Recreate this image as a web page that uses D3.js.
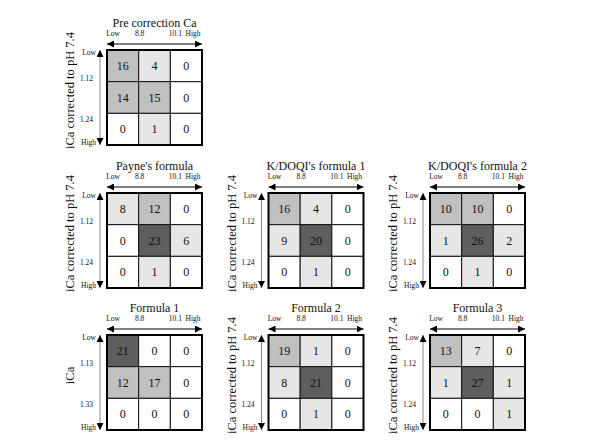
<!DOCTYPE html>
<html>
<head>
<meta charset="utf-8">
<script src="https://cdn.jsdelivr.net/npm/d3@7"></script>
<style>
  body { margin: 0; background: #fff; }
</style>
</head>
<body>
<div id="chart"></div>
<script>
// Panel titles and counts (rows = iCa Low..High, cols = Ca Low..High)
const titles = ["Pre correction Ca", "Payne's formula", "K/DOQI's formula 1",
                "K/DOQI's formula 2", "Formula 1", "Formula 2", "Formula 3"];
const preCorrection = [[16, 4, 0], [14, 15, 0], [0, 1, 0]];
const payne        = [[8, 12, 0], [0, 23, 6], [0, 1, 0]];
const kdoqi1       = [[16, 4, 0], [9, 20, 0], [0, 1, 0]];
const kdoqi2       = [[10, 10, 0], [1, 26, 2], [0, 1, 0]];
const formula1     = [[21, 0, 0], [12, 17, 0], [0, 0, 0]];
const formula2     = [[19, 1, 0], [8, 21, 0], [0, 1, 0]];
const formula3     = [[13, 7, 0], [1, 27, 1], [0, 0, 1]];
const xTickLabels = ["Low", "8.8", "10.1", "High"];
const yTickLabels = ["Low", "1.12", "1.24", "High"];
const yTickLabelsF1 = ["Low", "1.13", "1.33", "High"];
const yTitle = "iCa corrected to pH 7.4";
const yTitleF1 = "iCa";

const panels = [
  { title: titles[0], values: preCorrection, yTicks: yTickLabels, yLabel: yTitle, col: 0, row: 0 },
  { title: titles[1], values: payne, yTicks: yTickLabels, yLabel: yTitle, col: 0, row: 1 },
  { title: titles[2], values: kdoqi1, yTicks: yTickLabels, yLabel: yTitle, col: 1, row: 1 },
  { title: titles[3], values: kdoqi2, yTicks: yTickLabels, yLabel: yTitle, col: 2, row: 1 },
  { title: titles[4], values: formula1, yTicks: yTickLabelsF1, yLabel: yTitleF1, col: 0, row: 2 },
  { title: titles[5], values: formula2, yTicks: yTickLabels, yLabel: yTitle, col: 1, row: 2 },
  { title: titles[6], values: formula3, yTicks: yTickLabels, yLabel: yTitle, col: 2, row: 2 }
];

const width = 595, height = 444;
const gs = 95; // grid size
const colX = [107, 268.5, 430];
const rowY = [50, 193, 335];
const serif = "'Liberation Serif', 'DejaVu Serif', 'Times New Roman', serif";

const svg = d3.select("#chart").append("svg")
  .attr("width", width)
  .attr("height", height)
  .attr("font-family", serif);

const defs = svg.append("defs");
defs.append("marker")
  .attr("id", "arrow")
  .attr("viewBox", "0 0 10 10")
  .attr("refX", 10).attr("refY", 5)
  .attr("markerWidth", 7).attr("markerHeight", 7)
  .attr("markerUnits", "userSpaceOnUse")
  .attr("orient", "auto-start-reverse")
  .append("path")
  .attr("d", "M0,0 L10,5 L0,10 Z")
  .attr("fill", "#000");

// shade by count
const color = d3.scaleThreshold()
  .domain([1, 10, 20])
  .range(["#ffffff", "#e6e6e6", "#c0c0c0", "#5e5e5e"]);

const x = d3.scaleBand().domain([0, 1, 2]).range([0, gs]);
const y = d3.scaleBand().domain([0, 1, 2]).range([0, gs]);
const xEdge = d3.scaleLinear().domain([0, 3]).range([0, gs]);
const yEdge = d3.scaleLinear().domain([0, 3]).range([0, gs]);

panels.forEach(p => {
  const g = svg.append("g")
    .attr("transform", `translate(${colX[p.col]},${rowY[p.row]})`);

  const cells = p.values.flatMap((r, ri) => r.map((v, ci) => ({ r: ri, c: ci, v })));

  g.selectAll("rect.cell")
    .data(cells)
    .join("rect")
    .attr("class", "cell")
    .attr("x", d => x(d.c))
    .attr("y", d => y(d.r))
    .attr("width", x.bandwidth())
    .attr("height", y.bandwidth())
    .attr("fill", d => color(d.v))
    .attr("stroke", "#111")
    .attr("stroke-width", 1);

  g.selectAll("text.val")
    .data(cells)
    .join("text")
    .attr("class", "val")
    .attr("x", d => x(d.c) + x.bandwidth() / 2)
    .attr("y", d => y(d.r) + y.bandwidth() / 2)
    .attr("dy", "0.35em")
    .attr("text-anchor", "middle")
    .attr("font-family", serif)
    .style("font-size", "12px")
    .attr("fill", "#111")
    .text(d => d.v);

  // outer border
  g.append("rect")
    .attr("width", gs).attr("height", gs)
    .attr("fill", "none")
    .attr("stroke", "#000")
    .attr("stroke-width", 2);

  // title
  g.append("text")
    .attr("x", gs / 2)
    .attr("y", -23)
    .attr("text-anchor", "middle")
    .attr("font-family", serif)
    .style("font-size", "12px")
    .attr("fill", "#111")
    .text(p.title);

  // horizontal arrow
  g.append("line")
    .attr("x1", 0).attr("x2", gs)
    .attr("y1", -6).attr("y2", -6)
    .attr("stroke", "#000")
    .attr("stroke-width", 1)
    .attr("marker-start", "url(#arrow)")
    .attr("marker-end", "url(#arrow)");

  // x tick labels
  const xOff = [6, 1, 5, -9];
  g.selectAll("text.xt")
    .data(xTickLabels)
    .join("text")
    .attr("class", "xt")
    .attr("x", (d, i) => xEdge(i) + xOff[i])
    .attr("y", -14)
    .attr("text-anchor", "middle")
    .attr("font-family", serif)
    .style("font-size", "7.5px")
    .attr("fill", "#111")
    .text(d => d);

  // vertical arrow
  g.append("line")
    .attr("x1", -7).attr("x2", -7)
    .attr("y1", 0).attr("y2", gs)
    .attr("stroke", "#888")
    .attr("stroke-width", 1)
    .attr("marker-start", "url(#arrow)")
    .attr("marker-end", "url(#arrow)");

  // y tick labels
  const yOff = [5, -1, 9, 0];
  g.selectAll("text.yt")
    .data(p.yTicks)
    .join("text")
    .attr("class", "yt")
    .attr("x", (d, i) => (i === 0 || i === 3) ? -11 : -14)
    .attr("y", (d, i) => yEdge(i) + yOff[i])
    .attr("text-anchor", "end")
    .attr("font-family", serif)
    .style("font-size", "7.5px")
    .attr("fill", "#111")
    .text(d => d);

  // y axis title
  g.append("text")
    .attr("transform", `translate(-33,${gs / 2 - 7}) rotate(-90)`)
    .attr("text-anchor", "middle")
    .attr("font-family", serif)
    .style("font-size", "12.5px")
    .attr("fill", "#111")
    .text(p.yLabel);
});
</script>
</body>
</html>
